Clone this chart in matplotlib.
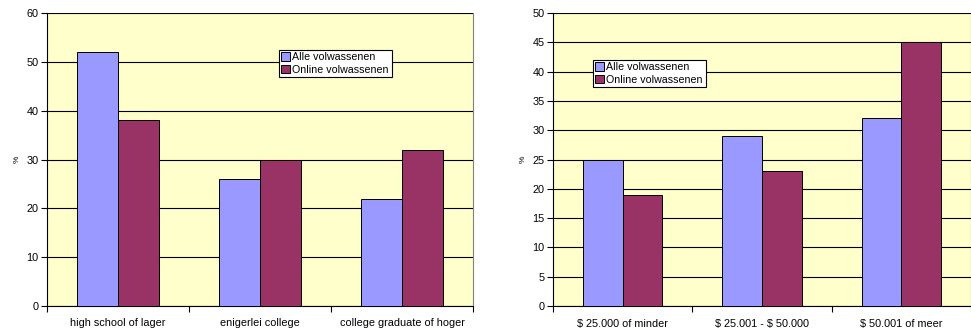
import matplotlib
matplotlib.use("Agg")
import matplotlib.pyplot as plt
import numpy as np

plt.rcParams['font.family'] = ['Liberation Sans', 'DejaVu Sans']

series_names = ["Alle volwassenen", "Online volwassenen"]

edu_labels = ["high school of lager", "enigerlei college", "college graduate of hoger"]
edu_all = [52, 26, 22]
edu_online = [38, 30, 32]

inc_labels = ["$ 25.000 of minder", "$ 25.001 - $ 50.000", "$ 50.001 of meer"]
inc_all = [25, 29, 32]
inc_online = [19, 23, 45]

c_all = "#9999FF"
c_online = "#993366"
bg = "#FFFFCC"

W, H = 971, 330
fig = plt.figure(figsize=(W / 100, H / 100), dpi=100)


def panel(rect, labels, a, b, ymax, ystep, legend_rect):
    ax = fig.add_axes(rect)
    ax.set_facecolor(bg)
    x = np.arange(len(labels))
    bw = 1 / 3.5
    ax.bar(x - bw / 2, a, bw, color=c_all, edgecolor="black", linewidth=0.7,
           label=series_names[0], zorder=3)
    ax.bar(x + bw / 2, b, bw, color=c_online, edgecolor="black", linewidth=0.7,
           label=series_names[1], zorder=3)
    ax.set_xlim(-0.5, len(labels) - 0.5)
    ax.set_ylim(0, ymax)
    ax.set_yticks(np.arange(0, ymax + 0.1, ystep))
    ax.yaxis.grid(True, color="black", linewidth=0.8, zorder=1)
    ax.set_axisbelow(True)
    # category labels centred, tick marks between categories
    ax.set_xticks(x)
    for t in ax.set_xticklabels(labels, fontsize=7.8):
        t.set_parse_math(False)
    ax.tick_params(axis="x", length=0, pad=9)
    ax.set_xticks(np.arange(-0.5, len(labels)), minor=True)
    ax.tick_params(axis="x", which="minor", length=4, width=0.8, direction="out")
    ax.tick_params(axis="y", labelsize=7.8, length=4, width=0.8, direction="out", pad=2)
    ax.set_ylabel("%", fontsize=6, labelpad=4)
    for s in ["left", "bottom"]:
        ax.spines[s].set_color("black")
        ax.spines[s].set_linewidth(0.8)
    ax.spines["top"].set_visible(False)
    ax.spines["right"].set_color("#808080")
    ax.spines["right"].set_linewidth(0.8)
    leg = ax.legend(loc="lower left", bbox_to_anchor=legend_rect, bbox_transform=fig.transFigure,
                    mode="expand", fontsize=7.7, frameon=True, fancybox=False,
                    edgecolor="black", framealpha=1, borderpad=0.2,
                    handlelength=0.8, handleheight=0.8, handletextpad=0.2,
                    labelspacing=0.25, borderaxespad=0)
    leg.get_frame().set_linewidth(0.8)
    return ax


def frect(x0, y0, x1, y1):
    return [x0 / W, 1 - y1 / H, (x1 - x0) / W, (y1 - y0) / H]


panel(frect(47, 13, 473, 306), edu_labels, edu_all, edu_online, 60, 10,
      (279 / W, 1 - 77 / H, (392 - 279) / W, (77 - 46) / H))
panel(frect(553, 13, 971, 306), inc_labels, inc_all, inc_online, 50, 5,
      (593 / W, 1 - 87 / H, (706 - 593) / W, (87 - 54) / H))

fig.savefig("out.png", dpi=100, facecolor="white")
